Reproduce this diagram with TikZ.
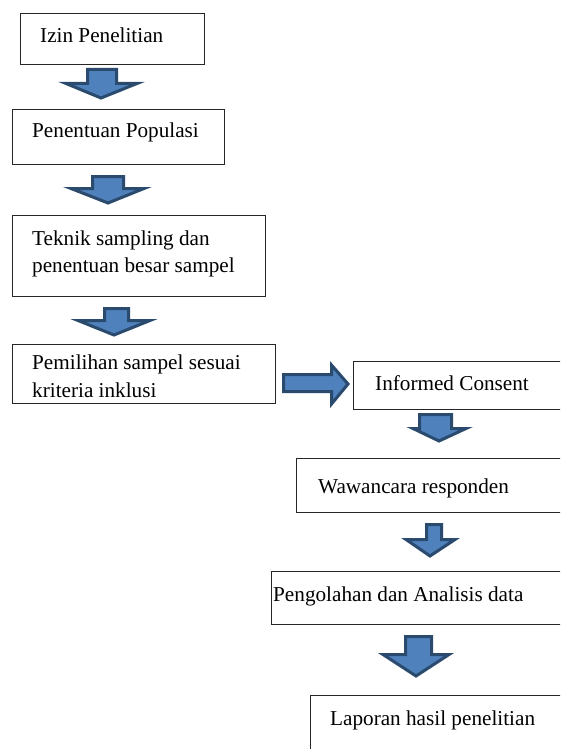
\documentclass[tikz,border=0pt]{standalone}
\usepackage{fontspec}
\setmainfont{Liberation Serif}
\definecolor{arrowline}{HTML}{2A4A6E}
\definecolor{arrowfill}{HTML}{4F81BD}
\begin{document}
\begin{tikzpicture}[x=1pt,y=-1pt,
  box/.style={draw=black!85, line width=1.1pt, anchor=north west, inner sep=0pt},
  lbl/.style={anchor=base west, inner sep=0pt, align=left, font=\fontsize{21.2}{27.5}\selectfont},
  barrow/.style={draw=arrowline, fill=arrowfill, line width=3pt, line join=miter}]
\useasboundingbox (0,0) rectangle (560,749);
\clip (0,0) rectangle (560,749);
% boxes
\node[box, minimum width=184pt, minimum height=51pt] (b1) at (20,13) {};
\node[box, minimum width=212pt, minimum height=55pt] (b2) at (12,109) {};
\node[box, minimum width=253pt, minimum height=81pt] (b3) at (12,215) {};
\node[box, minimum width=263pt, minimum height=59pt] (b4) at (12,344) {};
\node[box, minimum width=230pt, minimum height=48pt] (b5) at (353,361) {};
\node[box, minimum width=290pt, minimum height=54pt] (b6) at (296,458) {};
\node[box, minimum width=300pt, minimum height=53pt] (b7) at (271,571) {};
\node[box, minimum width=280pt, minimum height=90pt] (b8) at (310,695) {};
% labels
\node[lbl] (t1) at (40,43) {Izin Penelitian};
\node[lbl] (t2) at (32,138) {Penentuan Populasi};
\node[lbl] (t3) at (32,272.5) {Teknik sampling dan\\penentuan besar sampel};
\node[lbl] (t4) at (32,397) {Pemilihan sampel sesuai\\kriteria inklusi};
\node[lbl] (t5) at (375,390) {Informed Consent};
\node[lbl] (t6) at (318,493) {Wawancara responden};
\node[lbl] (t7) at (273,601) {Pengolahan dan Analisis data};
\node[lbl] (t8) at (330,725) {Laporan hasil penelitian};
% block arrows
\draw[barrow] (87.5,69.5) -- (116.5,69.5) -- (116.5,83.5) -- (137,83.5) -- (101,98) -- (66,83.5) -- (87.5,83.5) -- cycle;
\draw[barrow] (92.5,176.5) -- (123.5,176.5) -- (123.5,188.5) -- (144,188.5) -- (108,203) -- (71,188.5) -- (92.5,188.5) -- cycle;
\draw[barrow] (104.5,308.5) -- (128.5,308.5) -- (128.5,320.5) -- (150,320.5) -- (114,335) -- (78,320.5) -- (104.5,320.5) -- cycle;
\draw[barrow] (283.5,374.5) -- (331.5,374.5) -- (331.5,365) -- (348,384) -- (331.5,404) -- (331.5,391.5) -- (283.5,391.5) -- cycle;
\draw[barrow] (419.5,414.5) -- (451.5,414.5) -- (451.5,428.5) -- (466,428.5) -- (439,441) -- (413,428.5) -- (419.5,428.5) -- cycle;
\draw[barrow] (426.5,524.5) -- (441.5,524.5) -- (441.5,539.5) -- (455,539.5) -- (430,556) -- (406,539.5) -- (426.5,539.5) -- cycle;
\draw[barrow] (405.5,636.5) -- (431.5,636.5) -- (431.5,654.5) -- (449,654.5) -- (416,676) -- (383,654.5) -- (405.5,654.5) -- cycle;
\end{tikzpicture}
\end{document}
